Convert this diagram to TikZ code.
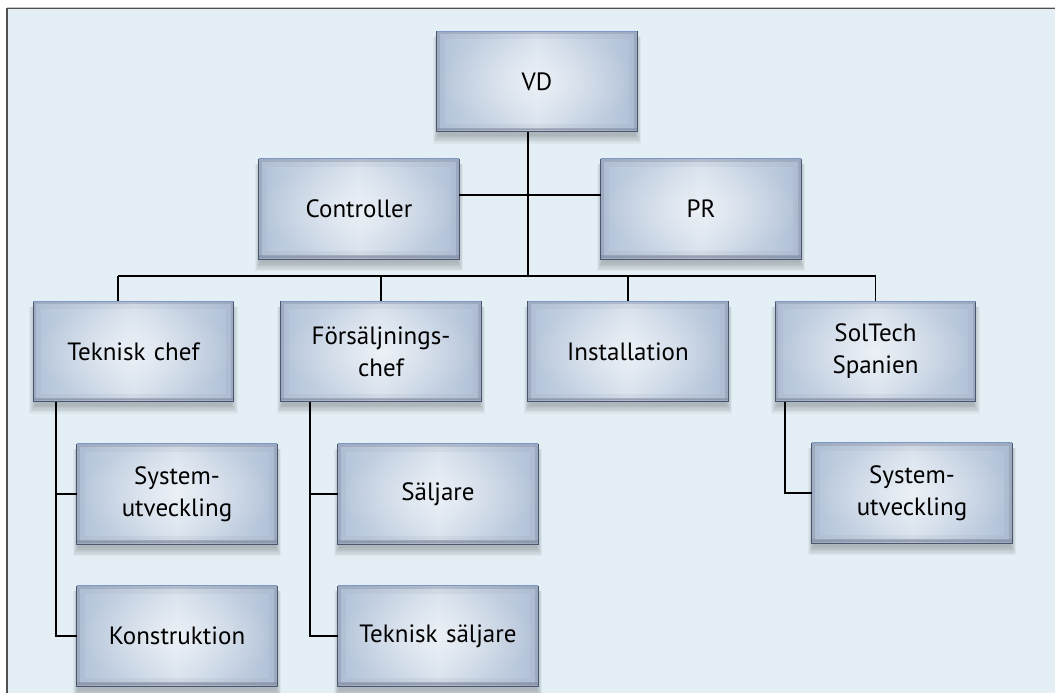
\documentclass[tikz,border=0pt]{standalone}
\usepackage{fontspec}
\setmainfont{PT Sans}
\usetikzlibrary{fadings,calc}
\tikzfading[name=glow, inner color=transparent!0, outer color=transparent!100]
\definecolor{bg}{HTML}{E3EFF5}
\definecolor{boxL}{HTML}{B3C3D9}
\definecolor{boxM}{HTML}{D8E2ED}
\definecolor{boxR}{HTML}{B0C0D7}
\definecolor{edge}{HTML}{4A5572}
\definecolor{topedge}{HTML}{7C98C8}
\definecolor{frameline}{HTML}{505050}
\tikzset{
  orgbox/.style={rectangle, minimum width=200pt, minimum height=100pt, inner sep=0pt,
    text width=190pt, align=center, font=\fontsize{25}{32}\selectfont,
    left color=boxL, right color=boxR, middle color=boxM,
    postaction={fill=white, fill opacity=0.5, path fading=glow}},
  conn/.style={draw=black, line width=1.2pt},
  boxedge/.style={draw=edge, line width=1.3pt},
  boxtop/.style={draw=topedge, line width=1.3pt},
  boxinner/.style={draw=edge!70, line width=3pt, draw opacity=0.35},
  boxblur/.style={draw=edge!60, line width=8pt, draw opacity=0.12},
  boxshadow/.style={fill=black, fill opacity=0.035},
}
\newcommand\orgnode[4]{%
  \foreach \s in {1,...,7} {%
    \path[boxshadow] (#2-100-\s*0.9+2, #3-50+4+\s*0.2) rectangle (#2+100+\s*0.9-2, #3+50+3+\s*1.3);
  }
  \node[orgbox] (#1) at (#2,#3) {#4};
  \path[boxblur] ([shift={(4,4)}]#1.north west) rectangle ([shift={(-4,-4)}]#1.south east);
  \path[boxinner] ([shift={(1.5,1.5)}]#1.north west) rectangle ([shift={(-1.5,-1.5)}]#1.south east);
  \path[boxinner, line width=2.5pt, draw opacity=0.5] ([shift={(0,-2.5)}]#1.south west) -- ([shift={(0,-2.5)}]#1.south east);
  \path[boxedge] (#1.north west) -- (#1.south west) -- (#1.south east) -- (#1.north east);
  \path[boxtop] (#1.north west) -- (#1.north east);
}
\begin{document}
\begin{tikzpicture}[x=1pt, y=-1pt]
\useasboundingbox (0,0) rectangle (1055,693);
\fill[white] (0,0) rectangle (1055,693);
\fill[bg] (7,8) rectangle (1055,693);
\draw[black!22, line width=1pt] (7,7.2) -- (1055,7.2);
\draw[frameline, line width=1.3pt] (7,693) -- (7,8.6) -- (1055,8.6);

% nodes
\orgnode{VD}{537}{81.5}{VD}
\orgnode{Ctrl}{359}{209}{Controller}
\orgnode{PR}{701}{209}{PR}
\orgnode{Tek}{133.5}{351.5}{Teknisk chef}
\orgnode{Fors}{381}{351.5}{Försäljnings-\\chef}
\orgnode{Inst}{628}{351.5}{Installation}
\orgnode{Sol}{875.5}{351.5}{SolTech\\Spanien}
\orgnode{SysA}{177}{494}{System-\\utveckling}
\orgnode{Kon}{177}{636}{Konstruktion}
\orgnode{Salj}{438}{494}{Säljare}
\orgnode{TekS}{438}{636}{Teknisk säljare}
\orgnode{SysB}{912}{493}{System-\\utveckling}

% connector coordinates
\coordinate (vdx) at (528,276);
\coordinate (hub) at (528,195);
\coordinate (busL) at (118,276);
\coordinate (tk) at (56,402);
\coordinate (fk) at (310,402);
\coordinate (sk) at (785,402);

% connectors
\draw[conn] (vdx |- VD.south) -- (vdx);
\draw[conn] (Ctrl.east |- hub) -- (PR.west |- hub);
\draw[conn] (busL) -- (Sol.north |- busL);
\draw[conn] (busL) -- (busL |- Tek.north);
\draw[conn] (Fors.north |- busL) -- (Fors.north);
\draw[conn] (Inst.north |- busL) -- (Inst.north);
\draw[conn] (Sol.north |- busL) -- (Sol.north);

\draw[conn] (tk |- Tek.south) -- (tk |- Kon.west) -- (Kon.west);
\draw[conn] (tk |- SysA.west) -- (SysA.west);
\draw[conn] (fk |- Fors.south) -- (fk |- TekS.west) -- (TekS.west);
\draw[conn] (fk |- Salj.west) -- (Salj.west);
\draw[conn] (sk |- Sol.south) -- (sk |- SysB.west) -- (SysB.west);
\end{tikzpicture}
\end{document}
